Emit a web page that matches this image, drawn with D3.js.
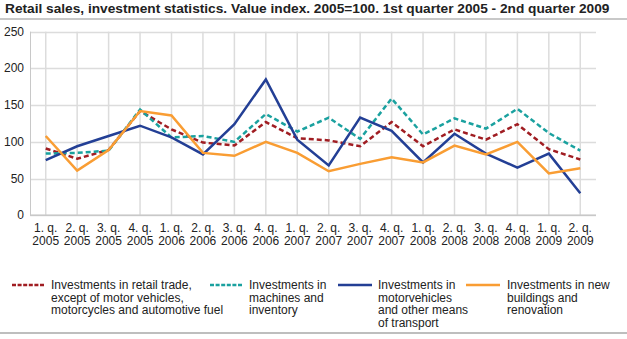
<!DOCTYPE html>
<html lang="en">
  <head>
    <meta charset="UTF-8" />
    <title>Retail sales, investment statistics</title>
    <style>
      body { margin: 0; background: #fff; }
      svg { display: block; font-family: "Liberation Sans", Arial, sans-serif; }
    </style>
  </head>
  <body>
    <svg id="chart" width="627" height="339"></svg>
    <script src="https://cdn.jsdelivr.net/npm/d3@7"></script>
    <script>
      const quarters = ["1. q.", "2. q.", "3. q.", "4. q.", "1. q.", "2. q.", "3. q.", "4. q.", "1. q.",
        "2. q.", "3. q.", "4. q.", "1. q.", "2. q.", "3. q.", "4. q.", "1. q.", "2. q."];
      const years = ["2005", "2005", "2005", "2005", "2006", "2006", "2006", "2006", "2007",
        "2007", "2007", "2007", "2008", "2008", "2008", "2008", "2009", "2009"];
      const yTicks = [0, 50, 100, 150, 200, 250];

      const retail = [91, 77, 89, 142, 117, 99, 95, 127, 105, 102, 94, 127, 94, 117, 103, 124, 90, 76];
      const machines = [84, 85, 88, 144, 106, 108, 100, 138, 114, 133, 104, 159, 110, 132, 118, 145, 112, 88];
      const motor = [75, 94, 108, 122, 106, 83, 124, 185, 103, 68, 133, 115, 72, 111, 84, 65, 84, 30];
      const buildings = [108, 61, 89, 142, 136, 85, 81, 100, 85, 60, 70, 79, 72, 95, 83, 100, 57, 64];

      const seriesNames = [
        ["Investments in retail trade,", "except of motor vehicles,", "motorcycles and automotive fuel"],
        ["Investments in", "machines and", "inventory"],
        ["Investments in", "motorvehicles", "and other means", "of transport"],
        ["Investments in new", "buildings and", "renovation"]
      ];
      const seriesColors = ["#a01d22", "#1aa19f", "#233f95", "#f99d33"];
      const seriesDash = ["5,3", "5,3", null, null];
      const legendDash = ["4,1.6", "4,1.6", null, null];
      const seriesData = [retail, machines, motor, buildings];

      const svg = d3.select("#chart");
      const plotL = 30, plotR = 596, plotT = 31.7, plotB = 215.3;

      // title + rule
      svg.append("text")
        .attr("x", 5).attr("y", 13)
        .attr("font-size", 13.7).attr("font-weight", "bold").attr("fill", "#222")
        .text("Retail sales, investment statistics. Value index. 2005=100. 1st quarter 2005 - 2nd quarter 2009");
      svg.append("line")
        .attr("x1", 0).attr("x2", 627).attr("y1", 19).attr("y2", 19)
        .attr("stroke", "#c8c8c8").attr("stroke-width", 2);

      const x = d3.scalePoint().domain(d3.range(quarters.length)).range([plotL, plotR]).padding(0.5);
      const y = d3.scaleLinear().domain([0, 250]).range([plotB, plotT]);

      // grid
      svg.append("g").selectAll("line").data(yTicks).join("line")
        .attr("x1", plotL).attr("x2", plotR)
        .attr("y1", d => Math.round(y(d)) + 0.5).attr("y2", d => Math.round(y(d)) + 0.5)
        .attr("stroke", "#dcdcdc").attr("stroke-width", 1.5);
      svg.append("g").selectAll("line").data(d3.range(quarters.length)).join("line")
        .attr("x1", d => x(d)).attr("x2", d => x(d))
        .attr("y1", plotT).attr("y2", plotB)
        .attr("stroke", "#dcdcdc").attr("stroke-width", 1.5);
      svg.append("line")
        .attr("x1", plotL + 0.5).attr("x2", plotL + 0.5).attr("y1", plotT).attr("y2", plotB)
        .attr("stroke", "#c8c8c8");
      svg.append("line")
        .attr("x1", plotL).attr("x2", plotR).attr("y1", y(0)).attr("y2", y(0))
        .attr("stroke", "#c8c8c8").attr("stroke-width", 1.5);

      // y labels
      svg.append("g").selectAll("text").data(yTicks).join("text")
        .attr("x", 24).attr("y", d => y(d) + 4)
        .attr("text-anchor", "end").attr("font-size", 12).attr("fill", "#222")
        .text(d => d);

      // x labels
      const xl = svg.append("g").selectAll("text").data(d3.range(quarters.length)).join("text")
        .attr("x", d => x(d)).attr("y", 232)
        .attr("text-anchor", "middle").attr("font-size", 12).attr("fill", "#222");
      xl.append("tspan").attr("x", d => x(d)).text(d => quarters[d]);
      xl.append("tspan").attr("x", d => x(d)).attr("dy", 13).text(d => years[d]);

      // lines
      const line = d3.line().x((d, i) => x(i)).y(d => y(d));
      seriesData.forEach((s, k) => {
        svg.append("path")
          .attr("d", line(s))
          .attr("fill", "none")
          .attr("stroke", seriesColors[k])
          .attr("stroke-width", 2.5)
          .attr("stroke-linejoin", "miter")
          .attr("stroke-dasharray", seriesDash[k]);
      });

      // legend
      const legendX = [[12, 45, 51], [210, 243, 249], [338, 372, 378], [466, 500, 507]];
      seriesNames.forEach((lines, k) => {
        const [x1, x2, tx] = legendX[k];
        svg.append("line")
          .attr("x1", x1).attr("x2", x2).attr("y1", 285).attr("y2", 285)
          .attr("stroke", seriesColors[k]).attr("stroke-width", 2.5)
          .attr("stroke-dasharray", legendDash[k]);
        const t = svg.append("text")
          .attr("x", tx).attr("y", 289)
          .attr("font-size", 12).attr("fill", "#222");
        lines.forEach((l, j) => {
          t.append("tspan").attr("x", tx).attr("dy", j ? 12.5 : 0).text(l);
        });
      });
      svg.append("line")
        .attr("x1", 0).attr("x2", 627).attr("y1", 333).attr("y2", 333)
        .attr("stroke", "#a8a8a8").attr("stroke-width", 1.5);
    </script>
  </body>
</html>
